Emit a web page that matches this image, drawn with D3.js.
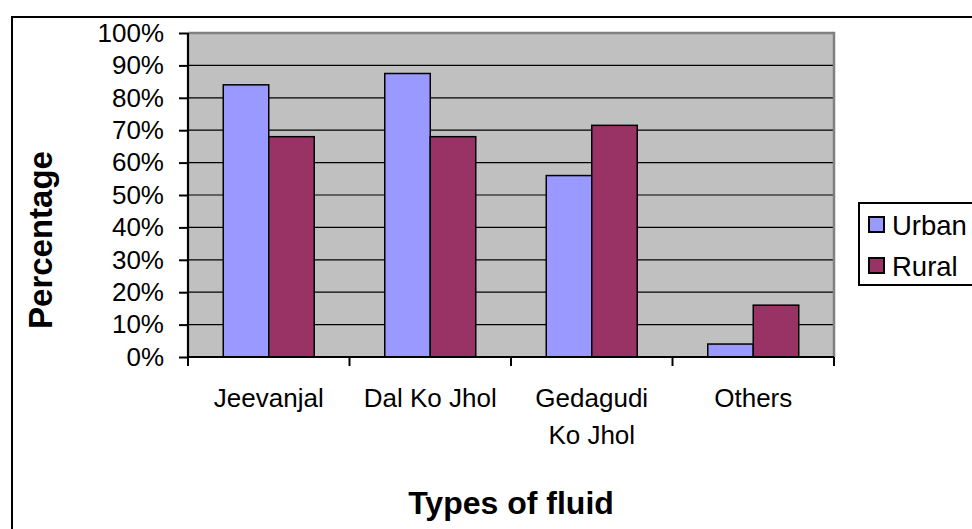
<!DOCTYPE html>
<html>
<head>
<meta charset="utf-8">
<script src="https://cdn.jsdelivr.net/npm/d3@7"></script>
<style>
  html, body { margin: 0; padding: 0; background: #fff; }
  svg { display: block; font-family: Arial, "Liberation Sans", sans-serif; }
</style>
</head>
<body>
<svg id="chart" width="972" height="529"></svg>
<script>
// Share of respondents using each type of fluid, by area
const categories = [["Jeevanjal"], ["Dal Ko Jhol"], ["Gedagudi", "Ko Jhol"], ["Others"]];
const seriesNames = ["Urban", "Rural"];
const urbanValues = [84, 87.5, 56, 4];
const ruralValues = [68, 68, 71.5, 16];
const yTicks = [0, 10, 20, 30, 40, 50, 60, 70, 80, 90, 100];
const colors = { Urban: "#9999FF", Rural: "#993366" };

const svg = d3.select("#chart");
const plot = { left: 188, right: 834, top: 33, bottom: 357 };

// outer chart frame
svg.append("rect")
  .attr("x", 12).attr("y", 17).attr("width", 1000).attr("height", 600)
  .attr("fill", "#fff").attr("stroke", "#000").attr("stroke-width", 2);

const catKeys = categories.map(c => c.join(" "));
const x0 = d3.scaleBand().domain(catKeys).range([plot.left, plot.right]).padding(0);
const x1 = d3.scaleBand().domain(seriesNames).range([0, x0.bandwidth()])
  .paddingInner(0).paddingOuter(0.775);
const y = d3.scaleLinear().domain([0, 100]).range([plot.bottom, plot.top]);

// plot background
svg.append("rect")
  .attr("x", plot.left).attr("y", plot.top)
  .attr("width", plot.right - plot.left).attr("height", plot.bottom - plot.top)
  .attr("fill", "#C0C0C0");

// horizontal gridlines
svg.append("g").selectAll("line")
  .data(yTicks.filter(t => t > 0 && t < 100))
  .join("line")
  .attr("x1", plot.left).attr("x2", plot.right)
  .attr("y1", d => y(d)).attr("y2", d => y(d))
  .attr("stroke", "#000").attr("stroke-width", 1.2);

// plot area border (top and right)
svg.append("path")
  .attr("d", `M${plot.left},${plot.top}H${plot.right}V${plot.bottom}`)
  .attr("fill", "none").attr("stroke", "#808080").attr("stroke-width", 2.5);

// bars
const rows = catKeys.map((k, i) => ({ key: k, Urban: urbanValues[i], Rural: ruralValues[i] }));
const groups = svg.append("g").selectAll("g")
  .data(rows).join("g")
  .attr("transform", d => `translate(${x0(d.key)},0)`);
groups.selectAll("rect")
  .data(d => seriesNames.map(s => ({ s, v: d[s] })))
  .join("rect")
  .attr("x", d => x1(d.s))
  .attr("width", x1.bandwidth())
  .attr("y", d => y(d.v))
  .attr("height", d => y(0) - y(d.v))
  .attr("fill", d => colors[d.s])
  .attr("stroke", "#000").attr("stroke-width", 1.5);

// y axis
const yAxis = d3.axisLeft(y).tickValues(yTicks).tickFormat(d => d + "%")
  .tickSize(9).tickPadding(15);
const gy = svg.append("g").attr("transform", `translate(${plot.left},0)`).call(yAxis);
gy.select(".domain").attr("stroke", "#000").attr("stroke-width", 2.2)
  .attr("d", `M0,${plot.top}V${plot.bottom}`);
gy.selectAll(".tick line").attr("stroke", "#000").attr("stroke-width", 2);
gy.selectAll(".tick text").attr("font-size", 26).attr("fill", "#000")
  .attr("font-family", "Arial, 'Liberation Sans', sans-serif");

// x axis line and boundary ticks
const bounds = catKeys.map(k => x0(k)).concat([plot.right]);
svg.append("line")
  .attr("x1", plot.left).attr("x2", plot.right)
  .attr("y1", plot.bottom).attr("y2", plot.bottom)
  .attr("stroke", "#000").attr("stroke-width", 2.2);
svg.append("g").selectAll("line").data(bounds).join("line")
  .attr("x1", d => d).attr("x2", d => d)
  .attr("y1", plot.bottom).attr("y2", plot.bottom + 9)
  .attr("stroke", "#000").attr("stroke-width", 2);

// category labels
const labels = svg.append("g").selectAll("text").data(categories).join("text")
  .attr("x", (d, i) => x0(catKeys[i]) + x0.bandwidth() / 2)
  .attr("y", 407)
  .attr("text-anchor", "middle")
  .attr("font-size", 26).attr("fill", "#000");
labels.selectAll("tspan").data(d => d).join("tspan")
  .attr("x", function () { return d3.select(this.parentNode).attr("x"); })
  .attr("dy", (d, i) => i === 0 ? 0 : 36.5)
  .text(d => d);

// axis titles
svg.append("text")
  .attr("x", (plot.left + plot.right) / 2).attr("y", 514)
  .attr("text-anchor", "middle").attr("font-size", 32).attr("font-weight", "bold")
  .text("Types of fluid");
svg.append("text")
  .attr("transform", "translate(52,240) rotate(-90)")
  .attr("text-anchor", "middle").attr("font-size", 33).attr("font-weight", "bold")
  .text("Percentage");

// legend
const legend = svg.append("g");
legend.append("rect")
  .attr("x", 859).attr("y", 203).attr("width", 140).attr("height", 82)
  .attr("fill", "#fff").attr("stroke", "#000").attr("stroke-width", 2);
const items = legend.selectAll("g.item").data(seriesNames).join("g")
  .attr("class", "item")
  .attr("transform", (d, i) => `translate(869,${217 + i * 41})`);
items.append("rect")
  .attr("width", 15).attr("height", 15)
  .attr("fill", d => colors[d]).attr("stroke", "#000").attr("stroke-width", 2);
items.append("text")
  .attr("x", 23).attr("y", 18)
  .attr("font-size", 27.5).attr("fill", "#000")
  .text(d => d);
</script>
</body>
</html>
